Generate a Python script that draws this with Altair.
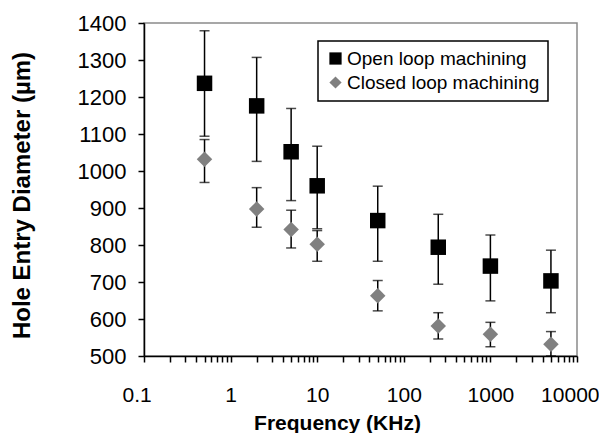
import altair as alt
import pandas as pd

# ---- data ----
freq = [0.5, 2, 5, 10, 50, 250, 1000, 5000]
open_mean = [1237, 1176, 1052, 960, 866, 794, 743, 703]
open_upper = [1379, 1307, 1169, 1067, 959, 883, 827, 786]
open_lower = [1094, 1026, 920, 844, 756, 694, 649, 617]
closed_mean = [1032, 897, 842, 802, 663, 581, 559, 532]
closed_upper = [1085, 955, 894, 839, 704, 617, 591, 566]
closed_lower = [969, 848, 792, 756, 622, 546, 525, 500]
series_names = ["Open loop machining", "Closed loop machining"]
y_ticks = [500, 600, 700, 800, 900, 1000, 1100, 1200, 1300, 1400]

rows = []
for i, f in enumerate(freq):
    rows.append(dict(freq=f, series=series_names[0], mean=open_mean[i], lo=open_lower[i], hi=open_upper[i]))
for i, f in enumerate(freq):
    rows.append(dict(freq=f, series=series_names[1], mean=closed_mean[i], lo=closed_lower[i], hi=closed_upper[i]))
df = pd.DataFrame(rows)

x_ticks = []
for e in range(-1, 4):
    for m in range(1, 10):
        x_ticks.append(round(m * 10 ** e, 6))
x_ticks.append(10000)

FONT = "Liberation Sans"

x_enc = alt.X(
    "freq:Q",
    scale=alt.Scale(type="log", domain=[0.1, 10000], nice=False),
    axis=alt.Axis(
        values=x_ticks,
        labelExpr="abs(log(datum.value)/LN10 - round(log(datum.value)/LN10)) < 1e-6 ? (datum.value < 0.5 ? ' 0.1' : format(datum.value, '~g')) : ''",
        labelFlush=True,
        labelFlushOffset=22,
        labelFontSize=21,
        title="Frequency (KHz)",
        titleFont=FONT,
        titleFontSize=21,
        titleFontWeight="bold",
        titleX=193,
        titleY=56,
        titleBaseline="top",
        titleAnchor="start",
        titleAlign="center",
        labelPadding=22,
    ),
)
y_scale = alt.Scale(domain=[500, 1400], nice=False, zero=False)
y_axis = alt.Axis(
    values=y_ticks,
    format="d",
    labelFontSize=22,
    title="Hole Entry Diameter (µm)",
    titleFont=FONT,
    titleFontSize=24,
    titleFontWeight="bold",
    titleX=-122,
    titleY=172,
    titleAlign="center",
    titleBaseline="middle",
    labelPadding=12,
)

base = alt.Chart(df)

bars = base.mark_rule(color="black", strokeWidth=1.5).encode(
    x=x_enc, y=alt.Y("lo:Q", scale=y_scale, axis=y_axis), y2="hi:Q"
)
cap_hi = base.mark_tick(orient="horizontal", size=10, thickness=1.5, color="black").encode(
    x=x_enc, y=alt.Y("hi:Q", scale=y_scale, axis=y_axis)
)
cap_lo = base.mark_tick(orient="horizontal", size=10, thickness=1.5, color="black").encode(
    x=x_enc, y=alt.Y("lo:Q", scale=y_scale, axis=y_axis)
)
points = base.mark_point(filled=True, opacity=1, size=240).encode(
    x=x_enc,
    y=alt.Y("mean:Q", scale=y_scale, axis=y_axis),
    color=alt.Color("series:N", scale=alt.Scale(domain=series_names, range=["#000000", "#808080"]), title=None),
    shape=alt.Shape("series:N", scale=alt.Scale(domain=series_names, range=["square", "diamond"]), title=None),
)

chart = (
    alt.layer(bars, cap_hi, cap_lo, points)
    .properties(
        width=433,
        height=333,
        autosize=alt.AutoSizeParams(type="none"),
        padding={"left": 136, "top": 15, "right": 22, "bottom": 77},
    )
    .configure_view(stroke="#8a8a8a", strokeWidth=1.5)
    .configure_axis(
        grid=False,
        domainColor="black",
        domainWidth=1.5,
        tickColor="black",
        tickWidth=1.5,
        tickSize=6,
        labelFont=FONT,
        labelColor="black",
        titleColor="black",
    )
    .configure_legend(
        orient="none",
        legendX=174,
        legendY=18,
        strokeColor="black",
        strokeWidth=1.5,
        fillColor="white",
        padding=8,
        labelFont=FONT,
        labelFontSize=19,
        labelColor="black",
        labelLimit=400,
        symbolSize=150,
        symbolStrokeWidth=0,
        rowPadding=4,
        labelOffset=2,
    )
)

chart.save("out.html", embed_options={"renderer": "svg", "actions": False})
